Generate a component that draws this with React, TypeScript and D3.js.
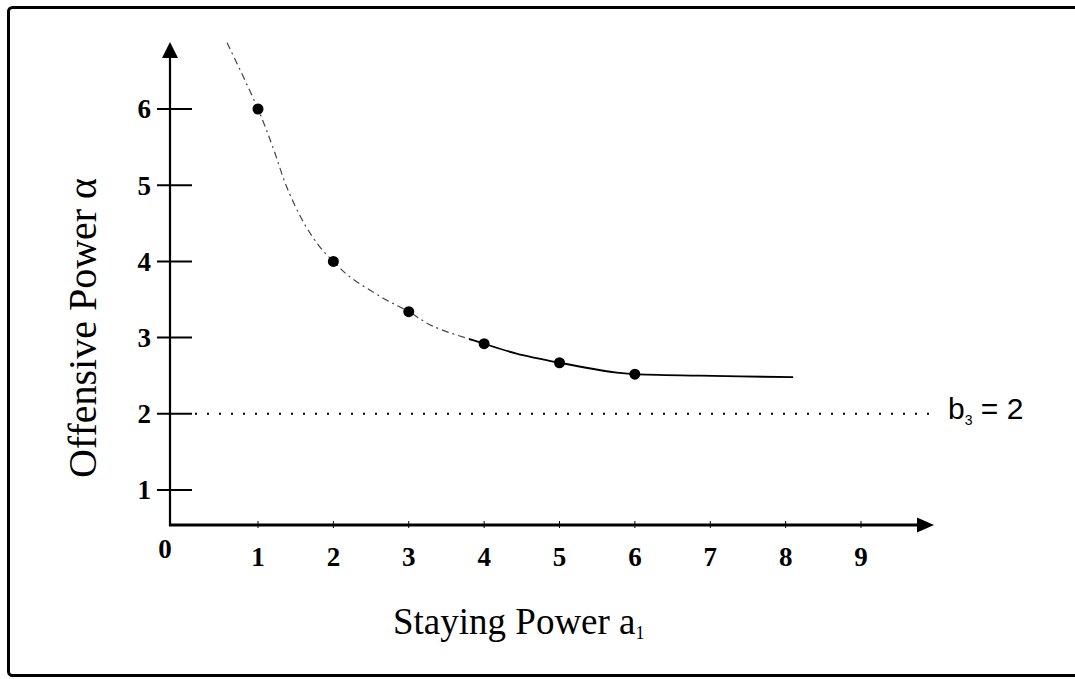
import React from "react";
import * as d3 from "d3";

// values
const yTicks = [1, 2, 3, 4, 5, 6];
const xTicks = [1, 2, 3, 4, 5, 6, 7, 8, 9];
const pointX = [1, 2, 3, 4, 5, 6];
const pointY = [6, 4, 3.34, 2.92, 2.67, 2.52];
// hand drawn curve
const curveX = [0.59, 1, 1.2, 1.38, 1.6, 1.82, 2, 2.19, 2.64, 3, 3.32, 4, 4.43, 5, 5.76, 6, 6.86, 8.1];
const curveY = [6.87, 6, 5.49, 4.98, 4.52, 4.19, 4, 3.82, 3.53, 3.34, 3.15, 2.92, 2.79, 2.67, 2.54, 2.52, 2.5, 2.48];
const asymptote = 2;
const asymptoteLabel = "b";
const asymptoteSub = "3";
const asymptoteValue = " = 2";
const xLabel = "Staying Power a";
const xLabelSub = "1";
const yLabel = "Offensive Power α";

const W = 1075;
const H = 679;
const serif = "'Liberation Serif', 'Times New Roman', serif";
const sans = "'Liberation Sans', Arial, sans-serif";

// frame
const axisX = 170;
const axisY = 525;
const yTop = 42;
const xEnd = 934;
const dashedUntil = 3.8;

export default function App() {
  const x = d3.scaleLinear().domain([1, 9]).range([258, 861]);
  const y = d3.scaleLinear().domain([1, 6]).range([490, 109]);

  const curveData = curveX.map((cx, i) => [cx, curveY[i]] as [number, number]);
  const line = d3
    .line<[number, number]>()
    .x(d => x(d[0]))
    .y(d => y(d[1]))
    .curve(d3.curveCatmullRom.alpha(0.5));
  const path = line(curveData) || "";
  const splitPx = x(dashedUntil);

  return (
    <svg
      width={W}
      height={H}
      style={{ position: "absolute", left: 0, top: 0, background: "#fff" }}
    >
      <defs>
        <clipPath id="leftPart">
          <rect x={0} y={0} width={splitPx} height={H} />
        </clipPath>
        <clipPath id="rightPart">
          <rect x={splitPx} y={0} width={W - splitPx} height={H} />
        </clipPath>
      </defs>

      {/* border */}
      <rect
        x={8.5}
        y={7.5}
        width={W + 10}
        height={668}
        rx={4}
        fill="none"
        stroke="#000"
        strokeWidth={3}
      />

      {/* y axis */}
      <line x1={axisX} x2={axisX} y1={axisY + 1} y2={yTop + 12} stroke="#000" strokeWidth={2.2} />
      <path
        d={`M${axisX},${yTop} L${axisX - 8},${yTop + 16} L${axisX + 8},${yTop + 16} Z`}
        fill="#000"
      />
      {yTicks.map(t => (
        <g key={"yt" + t}>
          <line x1={axisX - 13} x2={axisX + 22} y1={y(t)} y2={y(t)} stroke="#000" strokeWidth={2} />
          <text
            x={151}
            y={y(t)}
            dy="0.35em"
            textAnchor="end"
            fontFamily={serif}
            fontSize={27}
            fontWeight="bold"
            fill="#000"
          >
            {t}
          </text>
        </g>
      ))}

      {/* x axis */}
      <line x1={axisX - 1} x2={xEnd - 12} y1={axisY} y2={axisY} stroke="#000" strokeWidth={3} />
      <path
        d={`M${xEnd},${axisY} L${xEnd - 17},${axisY - 7.5} L${xEnd - 17},${axisY + 7.5} Z`}
        fill="#000"
      />
      {xTicks.map(t => (
        <g key={"xt" + t}>
          <line x1={x(t)} x2={x(t)} y1={axisY - 4} y2={axisY + 3} stroke="#000" strokeWidth={1} />
          <text
            x={x(t)}
            y={566}
            textAnchor="middle"
            fontFamily={serif}
            fontSize={27}
            fontWeight="bold"
            fill="#000"
          >
            {t}
          </text>
        </g>
      ))}
      <text
        x={165}
        y={558}
        textAnchor="middle"
        fontFamily={serif}
        fontSize={27}
        fontWeight="bold"
        fill="#000"
      >
        0
      </text>

      {/* asymptote */}
      <line
        x1={195}
        x2={934}
        y1={y(asymptote)}
        y2={y(asymptote)}
        stroke="#000"
        strokeWidth={2}
        strokeDasharray="2,10"
      />
      <text x={948} y={419} fontFamily={sans} fontSize={30} fill="#000">
        {asymptoteLabel}
        <tspan fontSize={14} dy={6}>
          {asymptoteSub}
        </tspan>
        <tspan dy={-6}>{asymptoteValue}</tspan>
      </text>

      {/* curve */}
      <path
        d={path}
        fill="none"
        stroke="#444"
        strokeWidth={1.2}
        strokeDasharray="7,4,2,4"
        clipPath="url(#leftPart)"
      />
      <path d={path} fill="none" stroke="#000" strokeWidth={1.8} clipPath="url(#rightPart)" />

      {/* points */}
      {pointX.map((px, i) => (
        <circle key={"p" + i} cx={x(px)} cy={y(pointY[i])} r={5.5} fill="#000" />
      ))}

      {/* axis labels */}
      <text x={393} y={634} fontFamily={serif} fontSize={37} fill="#000">
        {xLabel}
        <tspan fontSize={18} dy={5}>
          {xLabelSub}
        </tspan>
      </text>
      <text
        transform={`translate(96,328) rotate(-90)`}
        textAnchor="middle"
        fontFamily={serif}
        fontSize={40}
        fill="#000"
      >
        {yLabel}
      </text>
    </svg>
  );
}
